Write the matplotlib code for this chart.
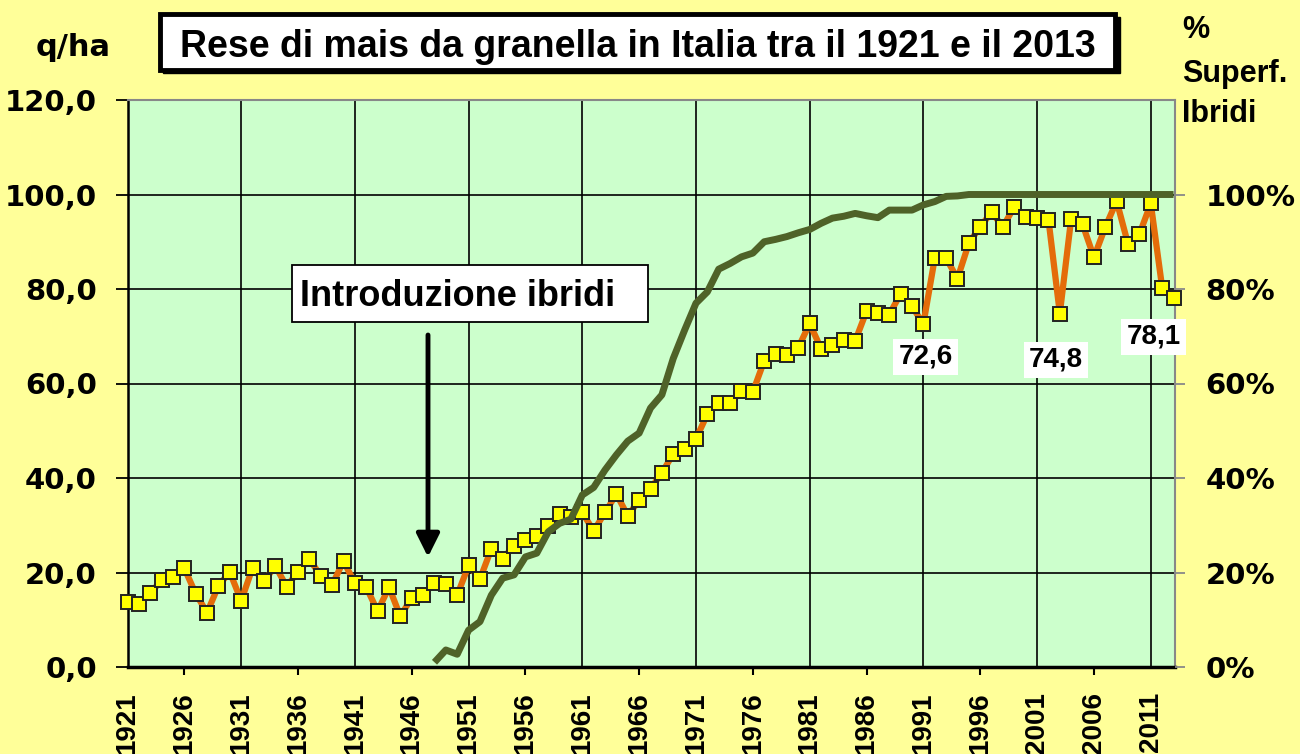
import matplotlib
matplotlib.use("Agg")
import matplotlib.pyplot as plt
from matplotlib.patches import Rectangle
from matplotlib.ticker import FixedLocator, FuncFormatter

# ---------------- data ----------------
years = list(range(1921, 2014))
yields = [13.7, 13.4, 15.6, 18.4, 19.0, 20.9, 15.5, 11.5, 17.2, 20.1,
          14.0, 21.0, 18.1, 21.4, 17.0, 20.2, 22.8, 19.3, 17.4, 22.4,
          17.7, 16.9, 11.8, 16.9, 10.7, 14.7, 15.3, 17.7, 17.5, 15.2,
          21.5, 18.6, 25.0, 22.9, 25.7, 26.9, 27.7, 29.9, 32.3, 31.8,
          32.7, 28.8, 32.7, 36.6, 32.0, 35.3, 37.7, 41.1, 45.1, 46.2,
          48.3, 53.5, 55.9, 55.8, 58.4, 58.2, 64.8, 66.2, 66.0, 67.6,
          72.7, 67.4, 68.1, 69.2, 69.0, 75.3, 75.0, 74.6, 79.0, 76.3,
          72.6, 86.5, 86.5, 82.2, 89.7, 93.2, 96.2, 93.2, 97.4, 95.2,
          95.0, 94.7, 74.8, 94.9, 93.7, 86.7, 93.1, 98.6, 89.5, 91.6,
          98.1, 80.3, 78.1]

hyb_years = list(range(1948, 2014))
hybrid_share = [0.010, 0.036, 0.027, 0.078, 0.096, 0.152, 0.188, 0.195, 0.233, 0.241,
                0.286, 0.304, 0.313, 0.364, 0.380, 0.417, 0.449, 0.478, 0.495, 0.548,
                0.576, 0.653, 0.713, 0.770, 0.794, 0.842, 0.854, 0.868, 0.876, 0.900,
                0.905, 0.911, 0.919, 0.926, 0.939, 0.950, 0.954, 0.960, 0.955, 0.951,
                0.967, 0.967, 0.967, 0.978, 0.985, 0.996, 0.997, 1.0, 1.0, 1.0,
                1.0, 1.0, 1.0, 1.0, 1.0, 1.0, 1.0, 1.0, 1.0, 1.0,
                1.0, 1.0, 1.0, 1.0, 1.0, 1.0]

label_years = list(range(1921, 2012, 5))
grid_years = list(range(1931, 2012, 10))
mark_years = list(range(1926, 2007, 10))
y_ticks = [0, 20, 40, 60, 80, 100, 120]
pct_ticks = [0, 0.2, 0.4, 0.6, 0.8, 1.0]

annotations = [(1991, 72.6, "72,6", (2, 33)),
               (2003, 74.8, "74,8", (-4, 46)),
               (2013, 78.1, "78,1", (-20, 39))]

title = "Rese di mais da granella in Italia tra il 1921 e il 2013"

# ---------------- style ----------------
W, H = 1300, 754
BG = "#FFFF99"
PLOT_BG = "#CCFFCC"
ORANGE = "#E46C0A"
GREEN = "#4F6228"
ARIAL = ["Liberation Sans", "DejaVu Sans"]
WIDE = ["DejaVu Sans"]

def fx(x):
    return x / W

def fy(y):
    return 1 - y / H

fig = plt.figure(figsize=(W / 100, H / 100), dpi=100, facecolor=BG)

left, right, top, bottom = 127.5, 1175, 100, 667
ax = fig.add_axes([fx(left), fy(bottom), fx(right - left), (bottom - top) / H])
ax.set_facecolor(PLOT_BG)
ax.set_xlim(1921, 2013.13)
ax.set_ylim(0, 120)

# y axis
ax.set_yticks(y_ticks)
ax.yaxis.set_major_formatter(FuncFormatter(lambda v, p: f"{v:.1f}".replace(".", ",")))
ax.tick_params(axis="y", length=9, width=1.3, color="black", pad=13, direction="out")
for lab in ax.get_yticklabels():
    lab.set_fontfamily(WIDE)
    lab.set_fontweight("bold")
    lab.set_fontsize(21)

# x axis
ax.xaxis.set_major_locator(FixedLocator(label_years))
ax.set_xticklabels([str(y) for y in label_years], rotation=90,
                   fontfamily=ARIAL, fontweight="bold", fontsize=20)
ax.tick_params(axis="x", length=6, width=1.5, color="black", pad=12, direction="out")
for t, yv in zip(ax.xaxis.get_major_ticks(), label_years):
    if yv not in mark_years:
        t.tick1line.set_markersize(0)
ax.xaxis.set_minor_locator(FixedLocator(grid_years))
ax.tick_params(axis="x", which="minor", length=0)
ax.xaxis.remove_overlapping_locs = False

ax.set_axisbelow(True)
ax.grid(axis="y", which="major", color="black", lw=1.2)
ax.grid(axis="x", which="minor", color="black", lw=1.2)
ax.grid(axis="x", which="major", visible=False)

for side in ("top", "right"):
    ax.spines[side].set_color("#888888")
    ax.spines[side].set_linewidth(1.5)
ax.spines["left"].set_color("black")
ax.spines["left"].set_linewidth(1.8)
ax.spines["bottom"].set_color("black")
ax.spines["bottom"].set_linewidth(2.5)

ax.plot(years, yields, color=ORANGE, lw=4.5, marker="s", ms=10,
        mfc="#FFFF00", mec="#222222", mew=1.4, zorder=3, clip_on=False)

# right axis
ax2 = ax.twinx()
ax2.set_ylim(0, 1.2)
ax2.set_yticks(pct_ticks)
ax2.yaxis.set_major_formatter(FuncFormatter(lambda v, p: f"{v * 100:.0f}%"))
ax2.tick_params(axis="y", length=7, width=1.3, color="#888888", pad=15)
for lab in ax2.get_yticklabels():
    lab.set_fontfamily(WIDE)
    lab.set_fontweight("bold")
    lab.set_fontsize(21)
for s in ax2.spines.values():
    s.set_visible(False)
ax2.plot(hyb_years, hybrid_share, color=GREEN, lw=5, solid_capstyle="butt", zorder=4)

# data labels
for xv, yv, txt, (dx, dy) in annotations:
    ax.annotate(txt, xy=(xv, yv), xytext=(dx, -dy), textcoords="offset pixels",
                ha="center", va="center", fontsize=20, fontweight="bold",
                fontfamily=ARIAL, zorder=10, annotation_clip=False,
                bbox=dict(boxstyle="square,pad=0.18", fc="white", ec="none"))

# title box
fig.patches.append(Rectangle((fx(163), fy(73)), fx(957), (56) / H, transform=fig.transFigure,
                             fc="black", ec="black", zorder=5))
fig.patches.append(Rectangle((fx(160), fy(70)), fx(955), (56) / H, transform=fig.transFigure,
                             fc="white", ec="black", lw=3.5, zorder=6))
fig.text(fx(638), fy(57), title, ha="center", va="baseline", fontsize=27,
         fontweight="bold", fontfamily=ARIAL, zorder=7)

# axis titles
fig.text(fx(73), fy(47), "q/ha", ha="center", va="center", fontsize=22,
         fontweight="bold", fontfamily=WIDE)
fig.text(fx(1182), fy(30), "%", ha="left", va="center", fontsize=22,
         fontweight="bold", fontfamily=ARIAL)
fig.text(fx(1182), fy(74), "Superf.", ha="left", va="center", fontsize=22,
         fontweight="bold", fontfamily=ARIAL)
fig.text(fx(1182), fy(114), "Ibridi", ha="left", va="center", fontsize=22,
         fontweight="bold", fontfamily=ARIAL)

# "Introduzione ibridi" box and arrow
fig.patches.append(Rectangle((fx(292), fy(322)), fx(356), 57 / H, transform=fig.transFigure,
                             fc="white", ec="black", lw=1.3, zorder=6))
fig.text(fx(300), fy(306), "Introduzione ibridi", ha="left", va="baseline", fontsize=26,
         fontweight="bold", fontfamily=ARIAL, zorder=7)
ax.annotate("", xy=(428, H - 557), xytext=(428, H - 335),
            xycoords="figure pixels", textcoords="figure pixels",
            arrowprops=dict(arrowstyle="-|>,head_length=1.0,head_width=0.5",
                            lw=3.5, color="black", shrinkA=0, shrinkB=0,
                            mutation_scale=14))

fig.savefig("out.png", dpi=100, facecolor=BG)
